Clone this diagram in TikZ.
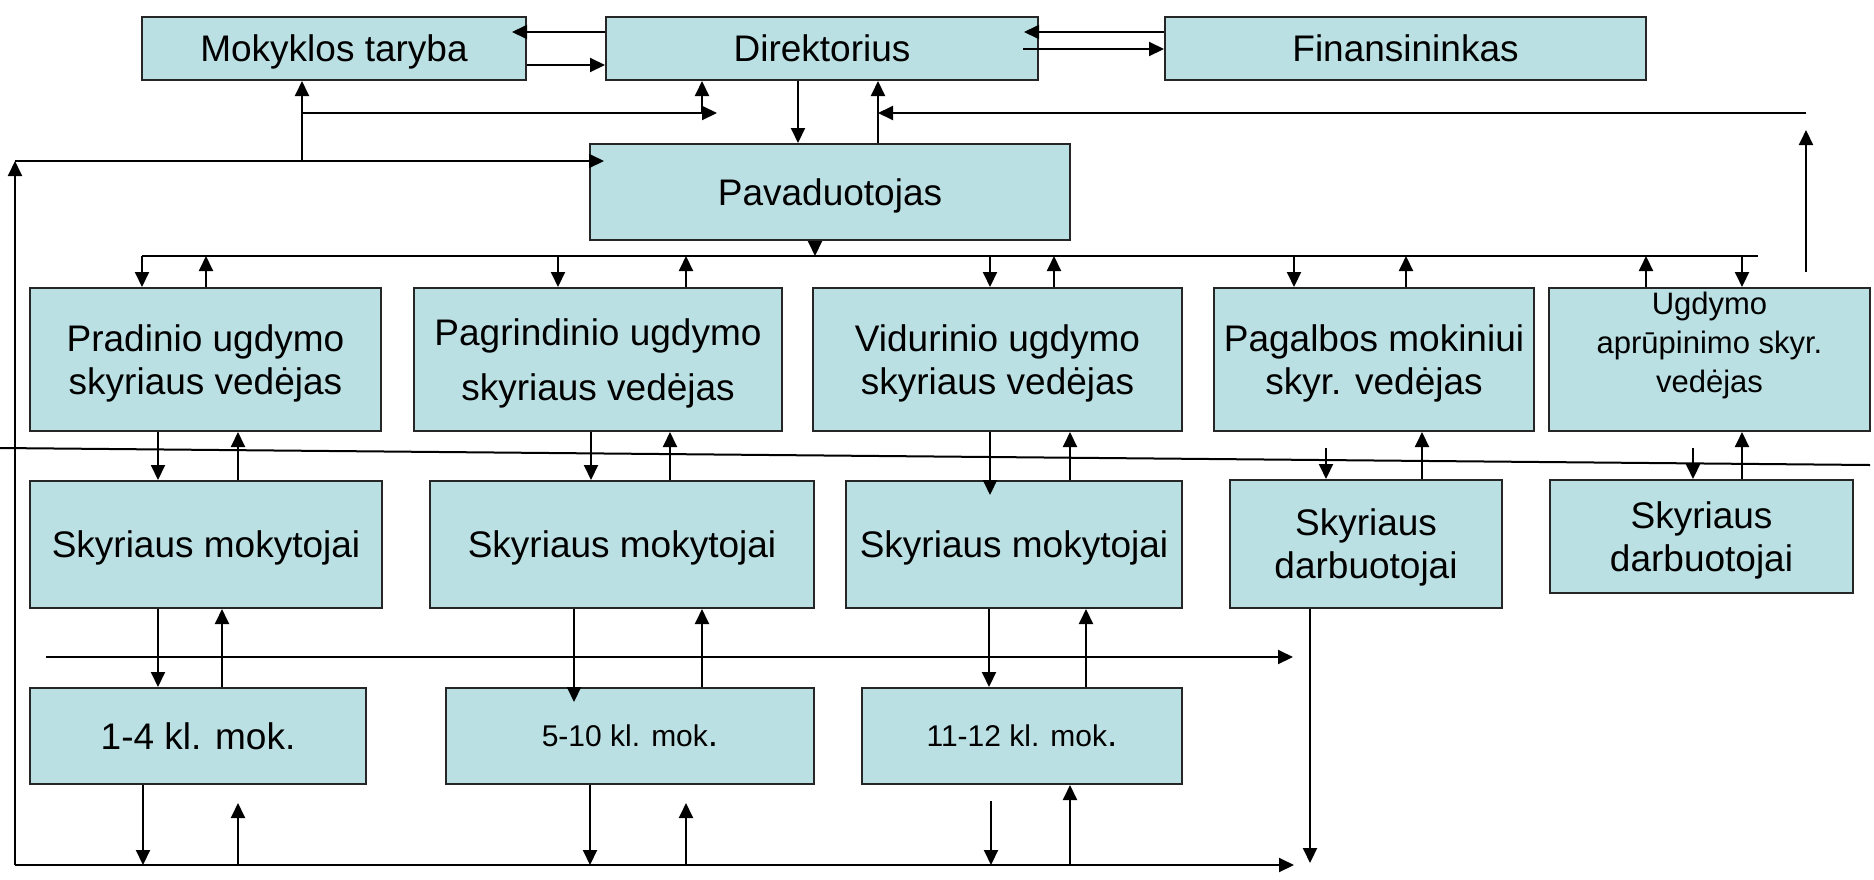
\documentclass[tikz,border=0pt]{standalone}
\usepackage{fontspec}
\setmainfont{Liberation Sans}
\usetikzlibrary{arrows.meta}

\definecolor{boxfill}{RGB}{187,224,227}
\tikzset{
	box/.style={draw=black!85, line width=2pt, fill=boxfill, inner sep=0pt, text depth=0pt, align=center, font=\fontsize{37}{43}\selectfont},
	arr/.style={line width=2pt, arrows={-{Triangle[length=15pt, width=14pt]}}},
	wire/.style={line width=2pt},
}

\begin{document}
\begin{tikzpicture}[x=1pt, y=-1pt]
		\useasboundingbox (0,0) rectangle (1874,879);

		%%% Top
		\node[box, minimum width=384pt, minimum height=63pt] (mt) at (334,48.5) {Mokyklos taryba};
		\node[box, minimum width=432pt, minimum height=63pt] (dir) at (822,48.5) {Direktorius};
		\node[box, minimum width=481pt, minimum height=63pt] (fin) at (1405.5,48.5) {Finansininkas};
		\node[box, minimum width=480pt, minimum height=96pt] (pav) at (830,192) {Pavaduotojas};

		%%% Skyriai
		\node[box, minimum width=351pt, minimum height=143pt] (prad) at (205.5,359.5) {Pradinio ugdymo\\skyriaus vedėjas};
		\node[box, minimum width=368pt, minimum height=143pt] (pagr) at (598,359.5) {Pagrindinio ugdymo\\[12pt]skyriaus vedėjas};
		\node[box, minimum width=369pt, minimum height=143pt] (vid) at (997.5,359.5) {Vidurinio ugdymo\\skyriaus vedėjas};
		\node[box, minimum width=320pt, minimum height=143pt] (pagal) at (1374,359.5) {Pagalbos mokiniui\\skyr. vedėjas};
		\node[box, minimum width=321pt, minimum height=143pt,
			label={[yshift=14pt, align=center, font=\fontsize{31}{39}\selectfont]center:Ugdymo\\aprūpinimo skyr.\\vedėjas}] (aprup) at (1709.5,359.5) {};

		\node[box, minimum width=352pt, minimum height=127pt] (mok1) at (206,544.5) {Skyriaus mokytojai};
		\node[box, minimum width=384pt, minimum height=127pt] (mok2) at (622,544.5) {Skyriaus mokytojai};
		\node[box, minimum width=336pt, minimum height=127pt] (mok3) at (1014,544.5) {Skyriaus mokytojai};
		\node[box, minimum width=272pt, minimum height=128pt] (darb1) at (1366,544) {Skyriaus\\darbuotojai};
		\node[box, minimum width=303pt, minimum height=113pt] (darb2) at (1701.5,536.5) {Skyriaus\\darbuotojai};

		\node[box, minimum width=336pt, minimum height=96pt] (kl1) at (198,736) {1-4 kl. mok.};
		\node[box, minimum width=368pt, minimum height=96pt] (kl2) at (630,736) {{\fontsize{30}{36}\selectfont 5-10 kl. mok}.};
		\node[box, minimum width=320pt, minimum height=96pt] (kl3) at (1022,736) {{\fontsize{30}{36}\selectfont 11-12 kl. mok}.};

		%%% Lines
		\coordinate (busL) at (142,256);
		\coordinate (busR) at (1758,256);
		\coordinate (topL) at (15,161);
		\coordinate (botL) at (15,865);
		\coordinate (botR) at (1294,865);
		\coordinate (midL) at (46,657);
		\coordinate (midR) at (1293,657);
		\coordinate (upL) at (302,113);
		\coordinate (upR) at (1806,113);
		\coordinate (diagL) at (0,448);
		\coordinate (diagR) at (1870,465);

		\draw[arr, shorten >=-15pt] (dir.west |- 0,32) -- (mt.east |- 0,32);
		\draw[arr] (mt.east |- 0,65) -- (dir.west |- 0,65);
		\draw[arr, shorten >=-15pt] (fin.west |- 0,32) -- (dir.east |- 0,32);
		\draw[arr, shorten <=-16pt] (dir.east |- 0,49) -- (fin.west |- 0,49);

		\draw[arr] (botL) -- (topL);
		\draw[arr, shorten >=-15pt] (topL) -- (pav.west |- topL);
		\draw[arr] (302,0 |- topL) -- (302,0 |- mt.south);
		\draw[arr] (upL) -- (717,0 |- upL);
		\draw[arr] (702,0 |- upL) -- (702,0 |- dir.south);
		\draw[arr] (798,0 |- dir.south) -- (798,0 |- pav.north);
		\draw[arr] (878,0 |- pav.north) -- (878,0 |- dir.south);
		\draw[arr] (upR) -- (878,0 |- upR);
		\draw[arr, shorten <=15pt] (upR |- aprup.north) -- ([yshift=-17pt]upR);

		%%% Bus
		\draw[wire] (busL) -- (busR);
		\draw[arr] (815,0 |- pav.south) -- (815,0 |- busL);
		\foreach \x/\n in {142/prad, 558/pagr, 990/vid, 1294/pagal, 1742/aprup}
			\draw[arr] (\x,0 |- busL) -- (\x,0 |- \n.north);
		\foreach \x/\n in {206/prad, 686/pagr, 1054/vid, 1406/pagal, 1646/aprup}
			\draw[arr] (\x,0 |- \n.north) -- (\x,0 |- busL);

		\draw[wire] (diagL) -- (diagR);

		%%% Row 2 - row 3
		\foreach \x/\a/\b in {158/prad/mok1, 591/pagr/mok2}
			\draw[arr] (\x,0 |- \a.south) -- (\x,0 |- \b.north);
		\draw[arr, shorten >=-15pt] (990,0 |- vid.south) -- (990,0 |- mok3.north);
		\draw[arr] (1326,0 |- diagL) -- (1326,0 |- darb1.north);
		\draw[arr] (1693,0 |- diagL) -- (1693,0 |- darb2.north);
		\foreach \x/\a/\b in {238/prad/mok1, 670/pagr/mok2, 1070/vid/mok3, 1422/pagal/darb1, 1742/aprup/darb2}
			\draw[arr] (\x,0 |- \b.north) -- (\x,0 |- \a.south);

		%%% Row 3 - row 4
		\draw[arr] (midL) -- (midR);
		\draw[arr] (158,0 |- mok1.south) -- (158,0 |- kl1.north);
		\draw[arr, shorten >=-15pt] (574,0 |- mok2.south) -- (574,0 |- kl2.north);
		\draw[arr] (989,0 |- mok3.south) -- (989,0 |- kl3.north);
		\foreach \x/\a/\b in {222/mok1/kl1, 702/mok2/kl2, 1086/mok3/kl3}
			\draw[arr] (\x,0 |- \b.north) -- (\x,0 |- \a.south);
		\draw[arr, shorten >=2pt] (1310,0 |- darb1.south) -- (1310,0 |- botL);

		%%% Bottom
		\draw[arr] (botL) -- (botR);
		\draw[arr] (143,0 |- kl1.south) -- (143,0 |- botL);
		\draw[arr] (590,0 |- kl2.south) -- (590,0 |- botL);
		\draw[arr, shorten <=16pt] (991,0 |- kl3.south) -- (991,0 |- botL);
		\draw[arr, shorten >=18pt] (238,0 |- botL) -- (238,0 |- kl1.south);
		\draw[arr, shorten >=18pt] (686,0 |- botL) -- (686,0 |- kl2.south);
		\draw[arr] (1070,0 |- botL) -- (1070,0 |- kl3.south);
\end{tikzpicture}
\end{document}
